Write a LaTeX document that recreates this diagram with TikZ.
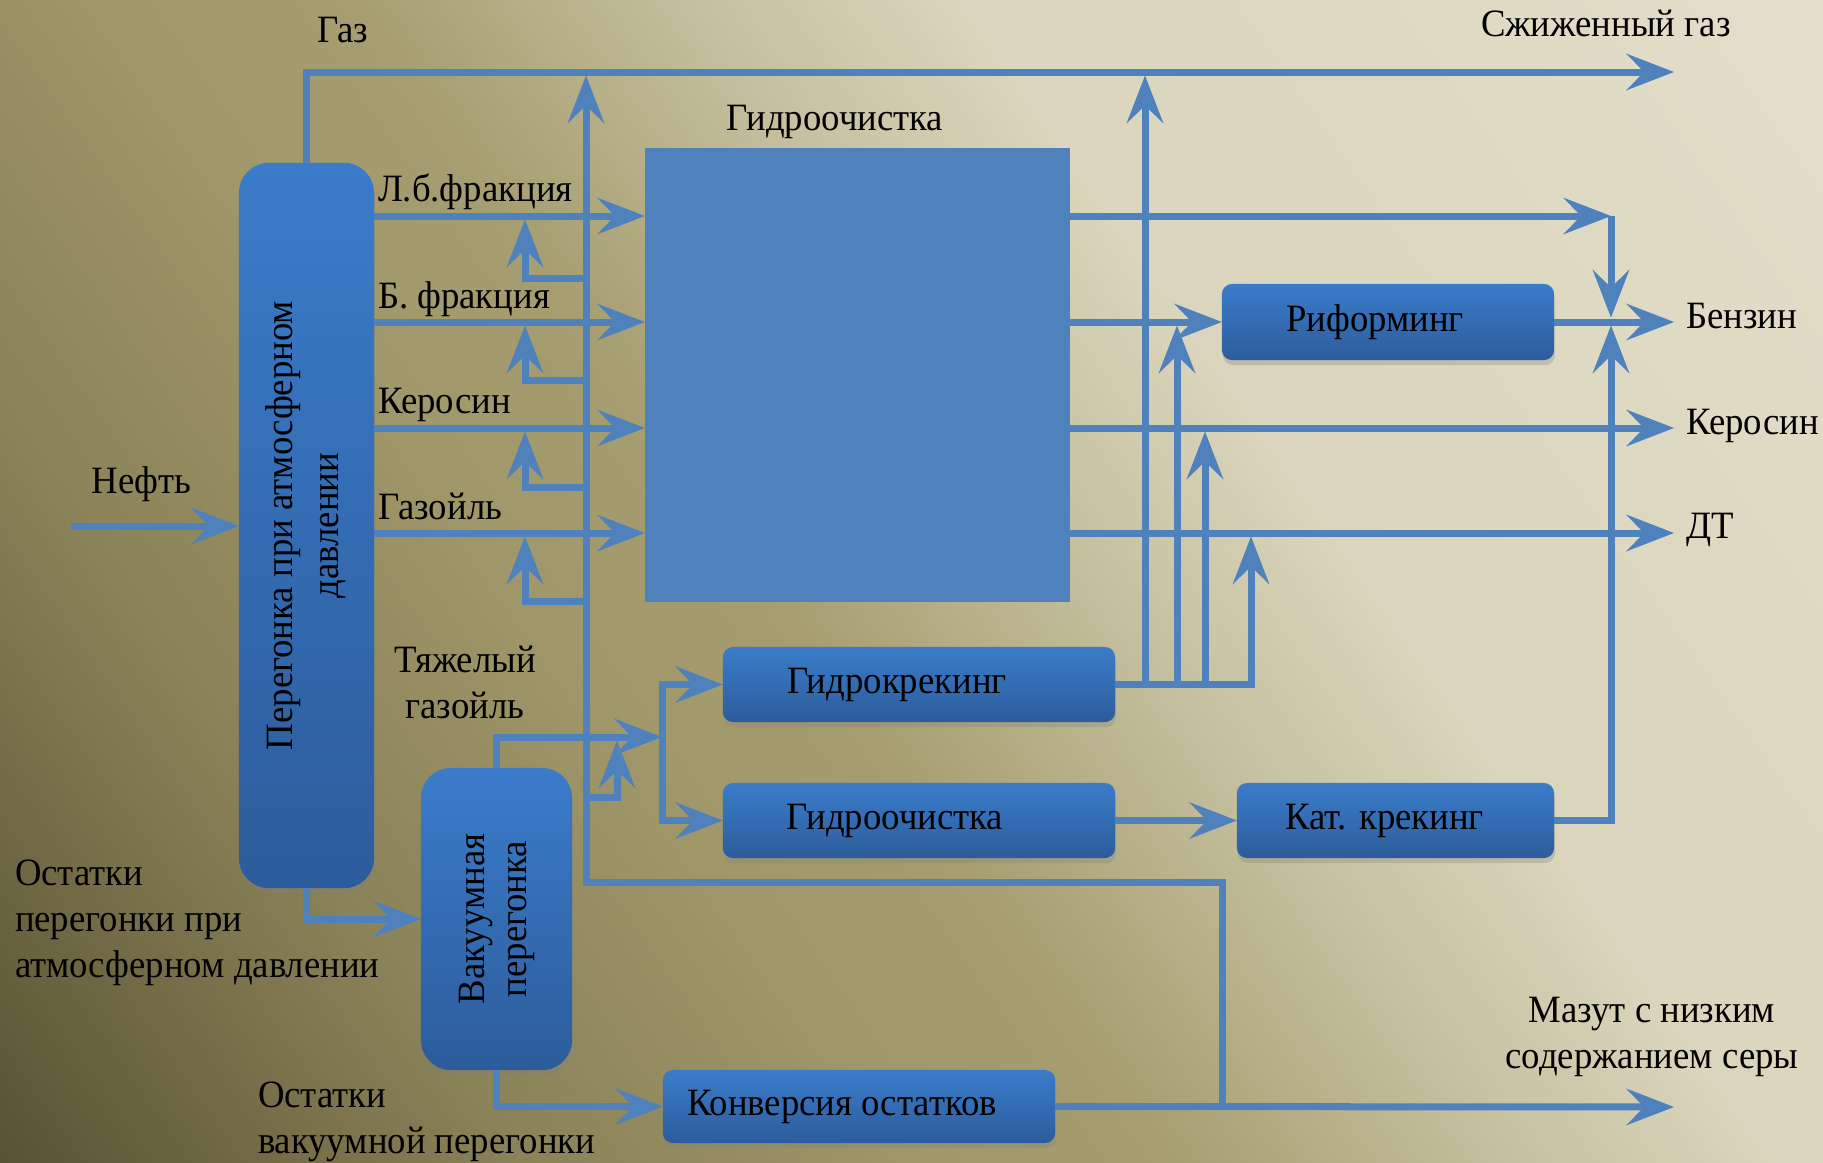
\documentclass[tikz,border=0pt]{standalone}
\usepackage{fontspec}
\setmainfont[FakeStretch=0.95]{Liberation Serif}
\usepackage{graphicx}
\usetikzlibrary{arrows.meta,shadows}

\definecolor{flowblue}{HTML}{4F81BD}
\definecolor{boxtop}{HTML}{3A7CCA}
\definecolor{boxbot}{HTML}{2D5C9C}
\definecolor{bgA}{HTML}{585232}
\definecolor{bgB}{HTML}{8A8258}
\definecolor{bgC}{HTML}{A0986A}
\definecolor{bgD}{HTML}{A69E70}
\definecolor{bgE}{HTML}{C8C3A3}
\definecolor{bgF}{HTML}{DAD5BC}
\definecolor{bgG}{HTML}{E2DECA}

\pgfdeclarehorizontalshading{bgshade}{100bp}{color(0bp)=(bgA); color(15bp)=(bgA); color(29bp)=(bgB); color(40bp)=(bgC); color(46bp)=(bgD); color(56bp)=(bgE); color(62bp)=(bgF); color(85bp)=(bgG); color(100bp)=(bgG)}

\tikzstyle{flow} = [draw=flowblue, line width=0.07cm, -{Stealth[length=0.48cm, width=0.37cm, inset=0.18cm, line width=0pt]}]
\tikzstyle{unit} = [rounded corners=0.1cm, top color=boxtop, bottom color=boxbot, drop shadow={shadow xshift=0.01cm, shadow yshift=-0.05cm, opacity=0.3}]

\newcommand{\labelstack}[2][c]{\begin{tabular}[b]{@{}#1@{}}#2\end{tabular}}

\begin{document}
\begin{tikzpicture}[
        x=0.01cm, y=-0.01cm,
        every node/.style={font=\fontsize{11pt}{13pt}\selectfont, inner sep=0pt, outer sep=0pt}
        ]
    \shade[shading=bgshade, shading angle=35] (0,0) rectangle (1823,1163);
    \useasboundingbox (0,0) rectangle (1823,1163);

    \node[unit, minimum width=1.35cm, minimum height=7.25cm, rounded corners=0.3cm] (atm) at (306.5,525.5)
        {\rotatebox{90}{\begin{tabular}{@{}c@{}}Перегонка при атмосферном\\давлении\end{tabular}}};
    \node[unit, minimum width=1.51cm, minimum height=3.02cm, rounded corners=0.3cm] (vac) at (496.5,919)
        {\rotatebox{90}{\begin{tabular}{@{}c@{}}Вакуумная\\[-1pt]перегонка\end{tabular}}};
    \node[fill=flowblue, minimum width=4.25cm, minimum height=4.54cm] (hydro) at (857.5,375) {};
    \node[unit, minimum width=3.92cm, minimum height=0.75cm] (hcrack) at (919,684.5) {Гидрокрекинг\hspace*{0.44cm}};
    \node[unit, minimum width=3.92cm, minimum height=0.75cm] (htreat) at (919,820.5) {Гидроочистка\hspace*{0.48cm}};
    \node[unit, minimum width=3.32cm, minimum height=0.76cm] (reform) at (1388,322) {Риформинг\hspace*{0.26cm}};
    \node[unit, minimum width=3.17cm, minimum height=0.75cm] (catcrack) at (1395.5,820.5) {Кат. крекинг\hspace*{0.22cm}};
    \node[unit, minimum width=3.92cm, minimum height=0.73cm] (conv) at (859,1106.5) {Конверсия остатков\hspace*{0.34cm}};

    \node[anchor=base west] (gasLbl) at (317,42) {Газ};
    \node[anchor=base west] (lpgLbl) at (1481,36) {Сжиженный газ};
    \node[anchor=base] (hydroLbl) at (835,130) {Гидроочистка};
    \node[anchor=base west] (lbLbl) at (378,201) {Л.б.фракция};
    \node[anchor=base west] (bLbl) at (378,308) {Б. фракция};
    \node[anchor=base west] (keroLbl) at (378,413) {Керосин};
    \node[anchor=base west] (gasoilLbl) at (378,519) {Газойль};
    \node[anchor=base west] (oilLbl) at (91.5,493) {Нефть};
    \node[anchor=base] (heavyLbl) at (465,718) {\labelstack{Тяжелый\\газойль}};
    \node[anchor=base west] (atmresLbl) at (15,977) {\labelstack[l]{Остатки\\перегонки при\\атмосферном давлении}};
    \node[anchor=base west] (vacresLbl) at (258,1153) {\labelstack[l]{Остатки\\вакуумной перегонки}};
    \node[anchor=base] (mazutLbl) at (1652,1068) {\labelstack{Мазут с низким\\содержанием серы}};
    \node[anchor=base west] (benzLbl) at (1686,328) {Бензин};
    \node[anchor=base west] (keroOutLbl) at (1686,434) {Керосин};
    \node[anchor=base west] (dtLbl) at (1686,538) {ДТ};

    \coordinate (oilIn) at (71,526);
    \coordinate (lpgEnd) at (1674,72);
    \coordinate (yLb) at (0,216);
    \coordinate (yB) at (0,322);
    \coordinate (yKer) at (0,428);
    \coordinate (yDt) at (0,533);
    \coordinate (benzEnd) at (1674,322);
    \coordinate (keroEnd) at (1674,428);
    \coordinate (dtEnd) at (1674,533);
    \coordinate (mazutEnd) at (1674,1107);
    \coordinate (lbTurn) at (1611,216);
    \coordinate (benzTop) at (1611,317.5);
    \coordinate (benzBot) at (1611,325.5);
    \coordinate (recDown) at (1222,1107);
    \coordinate (recLeft) at (586,882);
    \coordinate (recTop) at (586,75.5);
    \coordinate (heavyJ) at (662,737);
    \coordinate (hcDt) at (1251,536.5);

    \draw[flow] (oilIn) -- (oilIn -| atm.west);
    \draw[flow] (atm.north) |- (lpgEnd);
    \foreach \f in {yLb,yB,yKer,yDt}
        \draw[flow] (atm.east |- \f) -- (hydro.west |- \f);
    \draw[flow] (hydro.east |- yLb) -- (lbTurn);
    \draw[flow] (lbTurn) -- (benzTop);
    \draw[flow] (hydro.east |- yB) -- (reform.west);
    \draw[flow] (reform.east) -- (benzEnd);
    \draw[flow] (hydro.east |- yKer) -- (keroEnd);
    \draw[flow] (hydro.east |- yDt) -- (dtEnd);

    \draw[flow] (atm.south) |- (vac.west);
    \draw[flow] (vac.south) |- (conv.west);
    \draw[flow] (conv.east) -- (mazutEnd);
    \draw[flow] (recDown) |- (recLeft) -- (recTop);
    \foreach \n/\ya/\xb/\yb in {1/278/525/219.5, 2/380/525/325.5, 3/487/525/431.5, 4/601/525/536.5, 5/797/617/740.5} {
        \coordinate (tapA\n) at (586,\ya);
        \coordinate (tapB\n) at (\xb,\yb);
        \draw[flow] (tapA\n) -| (tapB\n);
    }

    \draw[flow] (vac.north) |- (heavyJ);
    \draw[flow] (heavyJ) |- (hcrack.west);
    \draw[flow] (heavyJ) |- (htreat.west);
    \draw[flow] (htreat.east) -- (catcrack.west);
    \draw[flow] (catcrack.east) -| (benzBot);

    \draw[flow] (hcrack.east) -| (hcDt);
    \foreach \n/\xa/\yb in {1/1145/75.5, 2/1177/325.5, 3/1205/431.5} {
        \coordinate (hcA\n) at (\xa,684.5);
        \coordinate (hcB\n) at (\xa,\yb);
        \draw[flow] (hcA\n) -- (hcB\n);
    }
\end{tikzpicture}
\end{document}
